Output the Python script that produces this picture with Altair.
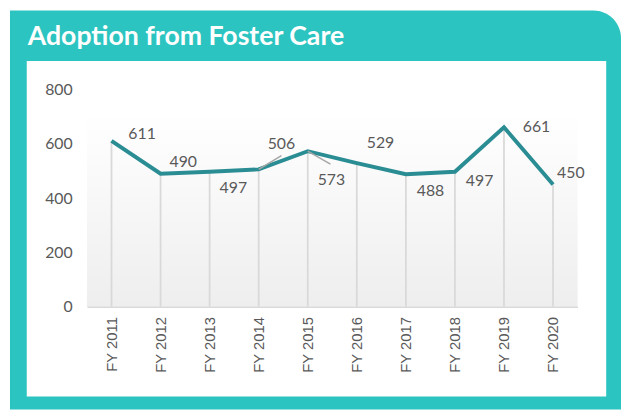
import altair as alt
import pandas as pd

# ---- data ----
years = ["FY 2011", "FY 2012", "FY 2013", "FY 2014", "FY 2015",
         "FY 2016", "FY 2017", "FY 2018", "FY 2019", "FY 2020"]
adoptions = [611, 490, 497, 506, 573, 529, 488, 497, 661, 450]
y_ticks = [0, 200, 400, 600, 800]
title_text = "Adoption from Foster Care"

# ---- styles ----
TEAL = "#2cc4c0"
LINE = "#2b8d94"
TXT = "#595959"
GRID = "#d9d9d9"
# label offsets (dx, dy) in pixels, one per point
label_offsets = [(31, -7), (23, -12), (24, 16), (23, -26), (24, 29),
                 (24, -20), (25, 17), (25, 9), (33, 0), (18, -12)]
# leader lines: (index, svg path)
leaders = [(3, "M0,0L1,-0.61"), (4, "M0,0L1,0.57")]

df = pd.DataFrame({"year": years, "value": adoptions})

W, H = 497, 220
x_enc = alt.X("year:N", sort=years,
              scale=alt.Scale(type="point", padding=0.5),
              axis=alt.Axis(title=None, labelAngle=-90, ticks=False,
                            domainColor=GRID, domainWidth=1.5,
                            labelPadding=10, labelFont="Liberation Sans",
                            labelFontSize=15, labelColor=TXT, grid=False,
                            zindex=1))
y_enc = alt.Y("value:Q", scale=alt.Scale(domain=[0, 800], nice=False),
              axis=alt.Axis(title=None, values=y_ticks, ticks=False,
                            domain=False, grid=False, labelPadding=15,
                            labelFont="Lato", labelFontSize=16,
                            labelColor=TXT, zindex=1))

one = alt.Data(values=[{"k": 1}])

frame = alt.Chart(one).mark_rect(color=TEAL, cornerRadiusTopRight=28).encode(
    x=alt.value(-78), x2=alt.value(541), y=alt.value(-80), y2=alt.value(324))
panel = alt.Chart(one).mark_rect(color="#ffffff").encode(
    x=alt.value(-61), x2=alt.value(526), y=alt.value(-29), y2=alt.value(311))
grad = alt.Gradient(gradient="linear",
                    stops=[alt.GradientStop(color="#ffffff", offset=0),
                           alt.GradientStop(color="#eeeeee", offset=1)],
                    x1=0, x2=0, y1=0, y2=1)
plotbg = alt.Chart(one).mark_rect(color=grad).encode(
    x=alt.value(0), x2=alt.value(W), y=alt.value(25), y2=alt.value(H))
title = alt.Chart(one).mark_text(
    text=title_text, font="Lato", fontWeight="bold", fontSize=27,
    color="#ffffff", align="left", baseline="alphabetic").encode(
    x=alt.value(-60), y=alt.value(-45))

base = alt.Chart(df)
drops = base.mark_rule(color=GRID, strokeWidth=1.8).encode(
    x=x_enc, y=y_enc, y2=alt.datum(0))
line = base.mark_line(color=LINE, strokeWidth=4).encode(x=x_enc, y=y_enc)

layers = [frame, panel, plotbg, title, drops, line]

for idx, path in leaders:
    layers.append(
        base.transform_filter(alt.datum.year == years[idx])
        .mark_point(shape=path, size=2116, filled=False, color="#a6a6a6",
                    strokeWidth=1.5, opacity=1)
        .encode(x=x_enc, y=y_enc))

for i, (dx, dy) in enumerate(label_offsets):
    layers.append(
        base.transform_filter(alt.datum.year == years[i])
        .mark_text(dx=dx, dy=dy, font="Lato", fontSize=16, color=TXT,
                   align="center", baseline="middle")
        .encode(x=x_enc, y=y_enc, text=alt.Text("value:Q")))

chart = alt.layer(*layers).properties(
    width=W, height=H,
    autosize=alt.AutoSizeParams(type="none"),
    padding={"left": 80, "top": 80, "right": 44, "bottom": 104},
).configure_view(stroke=None)

chart.save("out.html", embed_options={"renderer": "svg", "actions": False})
